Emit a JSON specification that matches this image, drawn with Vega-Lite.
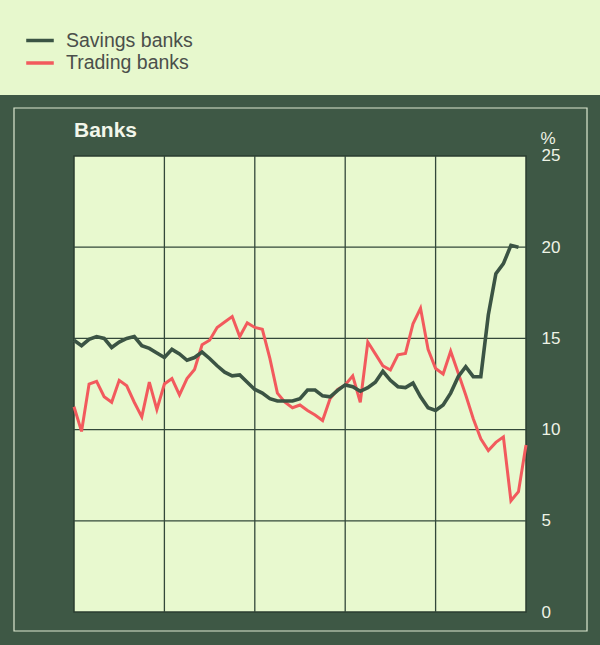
{
  "$schema": "https://vega.github.io/schema/vega-lite/v6.json",
  "width": 600,
  "height": 550,
  "autosize": {"type": "none"},
  "padding": {"top": 95, "left": 0, "right": 0, "bottom": 0},
  "background": "#e7f8cd",
  "view": {"fill": "#3e5845", "stroke": null},
  "title": {"text": "Banks", "anchor": "start", "frame": "group", "orient": "top", "offset": 0, "dx": 74, "dy": 129, "baseline": "alphabetic", "fontSize": 21, "fontWeight": "bold", "color": "#f2f6ea", "font": "Liberation Sans"},
  "config": {
    "font": "Liberation Sans",
    "axisY": {"domain": false, "ticks": false, "grid": false, "labelPadding": 1, "labelAlign": "left", "labelBaseline": "middle", "labelDy": -2, "labelFontSize": 17, "labelColor": "#eef3e6", "labelFlush": false, "labelOverlap": false, "titleAngle": 0, "titleX": 0, "titleY": 43, "titleAlign": "left", "titleBaseline": "middle", "titleFontSize": 17, "titleFontWeight": "normal", "titleColor": "#eef3e6"},
    "legend": {"orient": "none", "legendX": 28.5, "legendY": -66, "symbolType": "M-1.45,0H1.45", "symbolSize": 361, "symbolStrokeWidth": 3.5, "labelFontSize": 19.5, "labelColor": "#4b4f4b", "labelOffset": 14.5, "rowPadding": 1.5, "padding": 0}
  },
  "datasets": {
    "series": [
      {"month": 0, "series": "Savings banks", "value": 14.9},
      {"month": 1, "series": "Savings banks", "value": 14.6},
      {"month": 2, "series": "Savings banks", "value": 14.95},
      {"month": 3, "series": "Savings banks", "value": 15.1},
      {"month": 4, "series": "Savings banks", "value": 15.0},
      {"month": 5, "series": "Savings banks", "value": 14.5},
      {"month": 6, "series": "Savings banks", "value": 14.8},
      {"month": 7, "series": "Savings banks", "value": 15.0},
      {"month": 8, "series": "Savings banks", "value": 15.1},
      {"month": 9, "series": "Savings banks", "value": 14.6},
      {"month": 10, "series": "Savings banks", "value": 14.45},
      {"month": 11, "series": "Savings banks", "value": 14.2},
      {"month": 12, "series": "Savings banks", "value": 13.95},
      {"month": 13, "series": "Savings banks", "value": 14.4},
      {"month": 14, "series": "Savings banks", "value": 14.15},
      {"month": 15, "series": "Savings banks", "value": 13.8},
      {"month": 16, "series": "Savings banks", "value": 13.95},
      {"month": 17, "series": "Savings banks", "value": 14.25},
      {"month": 18, "series": "Savings banks", "value": 13.9},
      {"month": 19, "series": "Savings banks", "value": 13.5},
      {"month": 20, "series": "Savings banks", "value": 13.15},
      {"month": 21, "series": "Savings banks", "value": 12.95},
      {"month": 22, "series": "Savings banks", "value": 13.0},
      {"month": 23, "series": "Savings banks", "value": 12.6},
      {"month": 24, "series": "Savings banks", "value": 12.2},
      {"month": 25, "series": "Savings banks", "value": 12.0},
      {"month": 26, "series": "Savings banks", "value": 11.7},
      {"month": 27, "series": "Savings banks", "value": 11.57},
      {"month": 28, "series": "Savings banks", "value": 11.57},
      {"month": 29, "series": "Savings banks", "value": 11.57},
      {"month": 30, "series": "Savings banks", "value": 11.7},
      {"month": 31, "series": "Savings banks", "value": 12.17},
      {"month": 32, "series": "Savings banks", "value": 12.17},
      {"month": 33, "series": "Savings banks", "value": 11.85},
      {"month": 34, "series": "Savings banks", "value": 11.8},
      {"month": 35, "series": "Savings banks", "value": 12.15},
      {"month": 36, "series": "Savings banks", "value": 12.45},
      {"month": 37, "series": "Savings banks", "value": 12.35},
      {"month": 38, "series": "Savings banks", "value": 12.1},
      {"month": 39, "series": "Savings banks", "value": 12.3},
      {"month": 40, "series": "Savings banks", "value": 12.6},
      {"month": 41, "series": "Savings banks", "value": 13.2},
      {"month": 42, "series": "Savings banks", "value": 12.7},
      {"month": 43, "series": "Savings banks", "value": 12.35},
      {"month": 44, "series": "Savings banks", "value": 12.3},
      {"month": 45, "series": "Savings banks", "value": 12.55},
      {"month": 46, "series": "Savings banks", "value": 11.8},
      {"month": 47, "series": "Savings banks", "value": 11.2},
      {"month": 48, "series": "Savings banks", "value": 11.05},
      {"month": 49, "series": "Savings banks", "value": 11.35},
      {"month": 50, "series": "Savings banks", "value": 12.0},
      {"month": 51, "series": "Savings banks", "value": 12.9},
      {"month": 52, "series": "Savings banks", "value": 13.45},
      {"month": 53, "series": "Savings banks", "value": 12.9},
      {"month": 54, "series": "Savings banks", "value": 12.9},
      {"month": 55, "series": "Savings banks", "value": 16.3},
      {"month": 56, "series": "Savings banks", "value": 18.55},
      {"month": 57, "series": "Savings banks", "value": 19.1},
      {"month": 58, "series": "Savings banks", "value": 20.1},
      {"month": 59, "series": "Savings banks", "value": 20.0},
      {"month": 0, "series": "Trading banks", "value": 11.25},
      {"month": 1, "series": "Trading banks", "value": 9.9},
      {"month": 2, "series": "Trading banks", "value": 12.5},
      {"month": 3, "series": "Trading banks", "value": 12.65},
      {"month": 4, "series": "Trading banks", "value": 11.8},
      {"month": 5, "series": "Trading banks", "value": 11.5},
      {"month": 6, "series": "Trading banks", "value": 12.7},
      {"month": 7, "series": "Trading banks", "value": 12.4},
      {"month": 8, "series": "Trading banks", "value": 11.5},
      {"month": 9, "series": "Trading banks", "value": 10.7},
      {"month": 10, "series": "Trading banks", "value": 12.6},
      {"month": 11, "series": "Trading banks", "value": 11.1},
      {"month": 12, "series": "Trading banks", "value": 12.5},
      {"month": 13, "series": "Trading banks", "value": 12.8},
      {"month": 14, "series": "Trading banks", "value": 11.9},
      {"month": 15, "series": "Trading banks", "value": 12.8},
      {"month": 16, "series": "Trading banks", "value": 13.3},
      {"month": 17, "series": "Trading banks", "value": 14.65},
      {"month": 18, "series": "Trading banks", "value": 14.9},
      {"month": 19, "series": "Trading banks", "value": 15.6},
      {"month": 20, "series": "Trading banks", "value": 15.9},
      {"month": 21, "series": "Trading banks", "value": 16.2},
      {"month": 22, "series": "Trading banks", "value": 15.1},
      {"month": 23, "series": "Trading banks", "value": 15.85},
      {"month": 24, "series": "Trading banks", "value": 15.6},
      {"month": 25, "series": "Trading banks", "value": 15.5},
      {"month": 26, "series": "Trading banks", "value": 13.9},
      {"month": 27, "series": "Trading banks", "value": 12.0},
      {"month": 28, "series": "Trading banks", "value": 11.5},
      {"month": 29, "series": "Trading banks", "value": 11.2},
      {"month": 30, "series": "Trading banks", "value": 11.35},
      {"month": 31, "series": "Trading banks", "value": 11.05},
      {"month": 32, "series": "Trading banks", "value": 10.8},
      {"month": 33, "series": "Trading banks", "value": 10.5},
      {"month": 34, "series": "Trading banks", "value": 11.7},
      {"month": 35, "series": "Trading banks", "value": 12.2},
      {"month": 36, "series": "Trading banks", "value": 12.45},
      {"month": 37, "series": "Trading banks", "value": 12.95},
      {"month": 38, "series": "Trading banks", "value": 11.5},
      {"month": 39, "series": "Trading banks", "value": 14.8},
      {"month": 40, "series": "Trading banks", "value": 14.15},
      {"month": 41, "series": "Trading banks", "value": 13.5},
      {"month": 42, "series": "Trading banks", "value": 13.27},
      {"month": 43, "series": "Trading banks", "value": 14.1},
      {"month": 44, "series": "Trading banks", "value": 14.18},
      {"month": 45, "series": "Trading banks", "value": 15.8},
      {"month": 46, "series": "Trading banks", "value": 16.65},
      {"month": 47, "series": "Trading banks", "value": 14.4},
      {"month": 48, "series": "Trading banks", "value": 13.35},
      {"month": 49, "series": "Trading banks", "value": 13.05},
      {"month": 50, "series": "Trading banks", "value": 14.3},
      {"month": 51, "series": "Trading banks", "value": 13.1},
      {"month": 52, "series": "Trading banks", "value": 11.9},
      {"month": 53, "series": "Trading banks", "value": 10.6},
      {"month": 54, "series": "Trading banks", "value": 9.5},
      {"month": 55, "series": "Trading banks", "value": 8.85},
      {"month": 56, "series": "Trading banks", "value": 9.3},
      {"month": 57, "series": "Trading banks", "value": 9.6},
      {"month": 58, "series": "Trading banks", "value": 6.1},
      {"month": 59, "series": "Trading banks", "value": 6.6},
      {"month": 60, "series": "Trading banks", "value": 9.15}
    ]
  },
  "layer": [
    {
      "data": {"values": [{}]},
      "mark": {"type": "rect", "filled": false, "stroke": "#dce8d0", "strokeWidth": 1.2},
      "encoding": {
        "x": {"datum": -7.965, "type": "quantitative", "scale": {"domain": [-9.823, 69.823], "nice": false, "zero": false}, "axis": null},
        "x2": {"datum": 68.098},
        "y": {"datum": 27.632, "type": "quantitative", "scale": {"domain": [-1.809, 28.344], "nice": false, "zero": false}, "axis": {"orient": "right", "offset": -60, "values": [0, 5, 10, 15, 20, 25], "title": "%"}},
        "y2": {"datum": -1.042}
      }
    },
    {
      "data": {"values": [{}]},
      "mark": {"type": "rect", "fill": "#e8f9cf", "stroke": "#2a3d30", "strokeWidth": 1.5},
      "encoding": {
        "x": {"datum": 0, "type": "quantitative", "axis": null},
        "x2": {"datum": 60},
        "y": {"datum": 0, "type": "quantitative", "axis": {"orient": "right", "offset": -60, "values": [0, 5, 10, 15, 20, 25], "title": "%"}},
        "y2": {"datum": 25}
      }
    },
    {
      "data": {"values": [{"level": 5}, {"level": 10}, {"level": 15}, {"level": 20}]},
      "mark": {"type": "rule", "color": "#33483a", "strokeWidth": 1.3},
      "encoding": {
        "y": {"field": "level", "type": "quantitative", "axis": {"orient": "right", "offset": -60, "values": [0, 5, 10, 15, 20, 25], "title": "%"}},
        "x": {"datum": 0, "type": "quantitative", "axis": null},
        "x2": {"datum": 60}
      }
    },
    {
      "data": {"values": [{"month": 12}, {"month": 24}, {"month": 36}, {"month": 48}]},
      "mark": {"type": "rule", "color": "#33483a", "strokeWidth": 1.3},
      "encoding": {
        "x": {"field": "month", "type": "quantitative", "axis": null},
        "y": {"datum": 0, "type": "quantitative", "axis": {"orient": "right", "offset": -60, "values": [0, 5, 10, 15, 20, 25], "title": "%"}},
        "y2": {"datum": 25}
      }
    },
    {
      "data": {"name": "series"},
      "transform": [{"filter": "datum.series === 'Trading banks'"}],
      "mark": {"type": "line", "strokeWidth": 3, "strokeJoin": "miter"},
      "encoding": {
        "x": {"field": "month", "type": "quantitative", "axis": null},
        "y": {"field": "value", "type": "quantitative", "axis": {"orient": "right", "offset": -60, "values": [0, 5, 10, 15, 20, 25], "title": "%"}},
        "color": {"field": "series", "type": "nominal", "scale": {"domain": ["Savings banks", "Trading banks"], "range": ["#3b5444", "#f25a5d"]}, "legend": {"title": null}}
      }
    },
    {
      "data": {"name": "series"},
      "transform": [{"filter": "datum.series === 'Savings banks'"}],
      "mark": {"type": "line", "strokeWidth": 3.6, "strokeJoin": "miter"},
      "encoding": {
        "x": {"field": "month", "type": "quantitative", "axis": null},
        "y": {"field": "value", "type": "quantitative", "axis": {"orient": "right", "offset": -60, "values": [0, 5, 10, 15, 20, 25], "title": "%"}},
        "color": {"field": "series", "type": "nominal", "legend": {"title": null}}
      }
    }
  ]
}
